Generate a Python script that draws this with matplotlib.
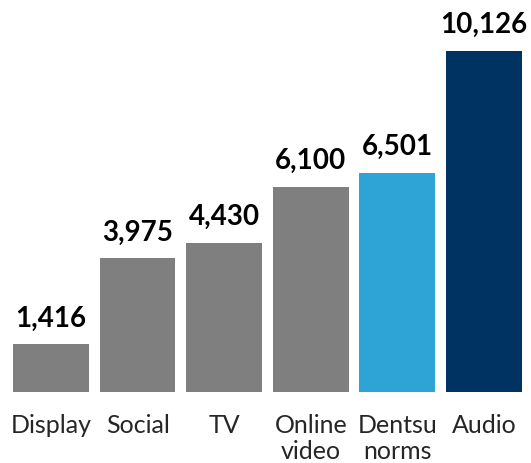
import matplotlib
matplotlib.use("Agg")
import matplotlib.pyplot as plt

# Values per channel
channels = ["Display", "Social", "TV", "Online\nvideo", "Dentsu\nnorms", "Audio"]
values = [1416, 3975, 4430, 6100, 6501, 10126]
colors = ["#7f7f7f", "#7f7f7f", "#7f7f7f", "#7f7f7f", "#2ea3d6", "#003361"]

plt.rcParams["font.family"] = ["Lato", "DejaVu Sans"]

fig = plt.figure(figsize=(5.31, 4.64), dpi=100)
ax = fig.add_axes([0, 0.153, 1, 0.847])

x = range(len(values))
ax.bar(x, values, width=0.875, color=colors)

for i, v in enumerate(values):
    ax.annotate(f"{v:,}", (i, v), xytext=(0, 13.5), textcoords="offset points",
                ha="center", va="baseline", fontsize=20, fontweight="bold",
                color="black")

ax.set_xlim(-0.589, 5.543)
ax.set_ylim(0, 11669)
ax.set_xticks(list(x))
ax.set_xticklabels(channels, fontsize=18, color="#262626", linespacing=1.15)
ax.tick_params(axis="x", length=0, pad=15)
ax.set_yticks([])
for s in ax.spines.values():
    s.set_visible(False)

fig.savefig("out.png", dpi=100)
